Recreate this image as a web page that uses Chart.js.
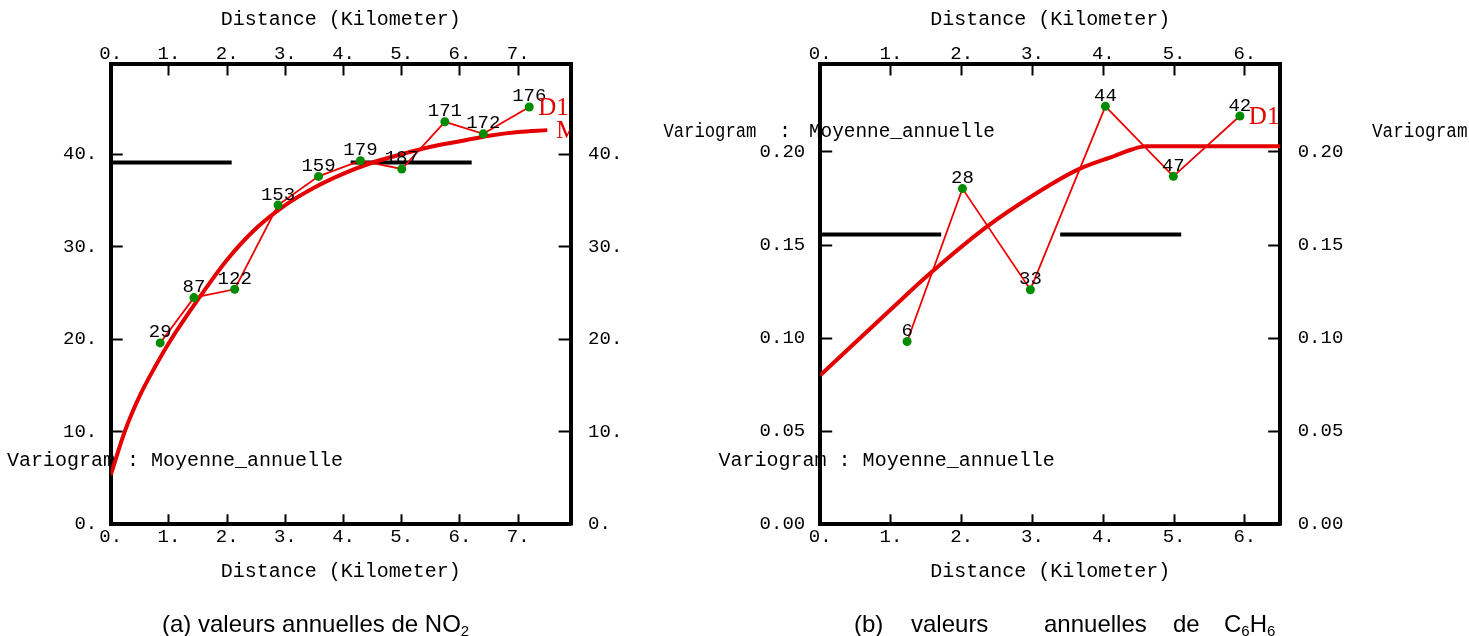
<!DOCTYPE html>
<html>
<head>
<meta charset="utf-8">
<script src="https://cdn.jsdelivr.net/npm/chart.js@4.4.1/dist/chart.umd.min.js"></script>
<style>
body { margin: 0; background: #fff; width: 1469px; height: 636px; position: relative; overflow: hidden; }
canvas { position: absolute; top: 0; }
.cap { position: absolute; top: 612px; font-family: 'Liberation Sans', Arial, sans-serif; font-size: 24px; line-height: 24px; white-space: nowrap; color: #000; }
.cap sub { font-size: 15px; vertical-align: -4px; line-height: 0; }
</style>
</head>
<body>
<canvas id="chartA" width="640" height="636" style="left:0"></canvas>
<canvas id="chartB" width="869" height="636" style="left:600px"></canvas>
<div class="cap" style="left:162px">(a) valeurs annuelles de NO<sub>2</sub></div>
<div class="cap" style="left:854px">(b)</div>
<div class="cap" style="left:911px">valeurs</div>
<div class="cap" style="left:1044px">annuelles</div>
<div class="cap" style="left:1173px">de</div>
<div class="cap" style="left:1224px">C<sub>6</sub>H<sub>6</sub></div>
<script>
// (a) NO2 - experimental variogram
const distA = [0.85, 1.43, 2.13, 2.875, 3.57, 4.29, 5.0, 5.74, 6.40, 7.19]
const gammaA = [19.6, 24.5, 25.4, 34.5, 37.6, 39.3, 38.4, 43.5, 42.2, 45.1]
const countsA = [29, 87, 122, 153, 159, 179, 187, 171, 172, 176]
// (a) fitted model
const modelDistA = [0, 0.24, 0.5, 0.76, 1.0, 1.5, 2.0, 2.5, 3.0, 3.5, 4.0, 4.5, 5.0, 5.5, 6.0, 6.5, 7.0, 7.5]
const modelGammaA = [5.3, 10.0, 13.9, 17.0, 19.6, 24.3, 28.6, 32.0, 34.5, 36.4, 37.9, 39.1, 40.0, 40.8, 41.4, 42.0, 42.4, 42.6]
const sillA = 39.1
const xMaxA = 7.9
const yMaxA = 49.8

// (b) C6H6
const distB = [1.228, 2.01, 2.97, 4.03, 4.99, 5.93]
const gammaB = [0.0982, 0.1803, 0.126, 0.2245, 0.1869, 0.2193]
const countsB = [6, 28, 33, 44, 47, 42]
const modelDistB = [0, 1.0, 1.53, 2.36, 3.0, 3.64, 4.17, 4.4, 4.6, 6.5]
const modelGammaB = [0.080, 0.1155, 0.134, 0.160, 0.1765, 0.1905, 0.198, 0.2013, 0.203, 0.203]
const sillB = 0.1557
const xMaxB = 6.5
const yMaxB = 0.2475

const mono = "'Liberation Mono', 'DejaVu Sans Mono', monospace"
const toXY = (xs, ys) => xs.map((x, i) => ({x: x, y: ys[i]}))

function fixSize(px) {
    return function (scale) {
        if (scale.isHorizontal()) scale.height = px
        else scale.width = px
    }
}

function axis(pos, max, step, fmt, size, pad, tl, title, titlePad) {
    return {
        type: 'linear',
        position: pos,
        min: 0,
        max: max,
        afterFit: fixSize(size),
        border: {display: true, width: 4, color: '#000'},
        grid: {drawOnChartArea: false, drawTicks: true, tickLength: tl, tickWidth: 2, tickColor: '#000'},
        ticks: {
            stepSize: step, includeBounds: false, autoSkip: false, maxRotation: 0,
            padding: pad, color: '#000', font: {family: mono, size: 19}, callback: fmt
        },
        title: title ? {display: true, text: title, color: '#000', font: {family: mono, size: 20}, padding: titlePad} : {display: false}
    }
}

const intFmt = v => v.toFixed(0) + '.'
const decFmt = v => v.toFixed(2)

// counts over points, D1 / M tags, variogram captions
function decorations(counts, texts) {
    return {
        id: 'deco',
        beforeDraw(chart) {
            const ctx = chart.ctx
            ctx.save()
            ctx.fillStyle = '#000'
            ctx.font = '20px ' + mono
            ctx.textBaseline = 'alphabetic'
            ctx.textAlign = 'left'
            texts.forEach(t => {
                if (t.w) ctx.fillText(t.s, t.x, t.y, t.w)
                else ctx.fillText(t.s, t.x, t.y)
            })
            ctx.restore()
        },
        afterDatasetsDraw(chart) {
            const ctx = chart.ctx
            const area = chart.chartArea
            const exp = chart.getDatasetMeta(0).data
            const mod = chart.getDatasetMeta(1).data
            ctx.save()
            ctx.fillStyle = '#000'
            ctx.font = '19px ' + mono
            ctx.textAlign = 'center'
            ctx.textBaseline = 'alphabetic'
            exp.forEach((p, i) => ctx.fillText(String(counts[i]), p.x, p.y - 5.5))
            ctx.beginPath()
            ctx.rect(area.left, area.top - 20, area.right - area.left - 1, area.bottom - area.top + 20)
            ctx.clip()
            ctx.fillStyle = '#e60000'
            ctx.font = "25px 'Liberation Serif', 'DejaVu Serif', serif"
            ctx.textAlign = 'left'
            ctx.textBaseline = 'middle'
            const last = exp[exp.length - 1]
            ctx.fillText('D1', last.x + 9, last.y + 1)
            const end = mod[mod.length - 1]
            ctx.fillText('M', end.x + 9, end.y + 1)
            ctx.restore()
        }
    }
}

function variogram(canvasId, d) {
    return new Chart(document.getElementById(canvasId), {
        type: 'line',
        data: {
            datasets: [{
                data: toXY(d.dist, d.gamma),
                borderColor: '#f00000',
                borderWidth: 1.8,
                pointRadius: 4.5,
                pointBackgroundColor: 'rgb(0,140,0)',
                pointBorderWidth: 0,
                tension: 0
            }, {
                data: toXY(d.modelDist, d.modelGamma),
                borderColor: '#e40000',
                borderWidth: 4,
                pointRadius: 0,
                cubicInterpolationMode: 'monotone'
            }, {
                data: [{x: 0, y: d.sill}, {x: d.xMax, y: d.sill}],
                borderColor: '#000',
                borderWidth: 4,
                borderDash: [121, 119],
                pointRadius: 0
            }]
        },
        options: {
            responsive: false,
            animation: false,
            devicePixelRatio: 1,
            layout: {padding: 0},
            plugins: {legend: {display: false}, tooltip: {enabled: false}},
            scales: {
                x: axis('bottom', d.xMax, 1, intFmt, 111.7, 11, -10, 'Distance (Kilometer)', {top: 0, bottom: 52.5}),
                x2: axis('top', d.xMax, 1, intFmt, 63.5, 10.5, -12, 'Distance (Kilometer)', {top: 8, bottom: 0}),
                y: axis('left', d.yMax, d.yStep, d.yFmt, d.left, d.leftPad, -12),
                y2: axis('right', d.yMax, d.yStep, d.yFmt, d.right, 29.5, -12)
            }
        },
        plugins: [decorations(d.counts, d.texts)]
    })
}

variogram('chartA', {
    dist: distA, gamma: gammaA, counts: countsA,
    modelDist: modelDistA, modelGamma: modelGammaA,
    sill: sillA, xMax: xMaxA, yMax: yMaxA, yStep: 10, yFmt: intFmt,
    left: 110.7, right: 640 - 570.6, leftPad: 25.5,
    texts: [{s: 'Variogram : Moyenne_annuelle', x: 7, y: 466}]
})

variogram('chartB', {
    dist: distB, gamma: gammaB, counts: countsB,
    modelDist: modelDistB, modelGamma: modelGammaB,
    sill: sillB, xMax: xMaxB, yMax: yMaxB, yStep: 0.05, yFmt: decFmt,
    left: 220.2, right: 869 - 680.2, leftPad: 27,
    texts: [
        {s: 'Variogram', x: 63.4, y: 137.3, w: 93},
        {s: ':', x: 179, y: 137.3},
        {s: 'Moyenne_annuelle', x: 208.9, y: 137.3, w: 186},
        {s: 'Variogram', x: 771.9, y: 137.3, w: 95.6},
        {s: 'Variogram : Moyenne_annuelle', x: 118.6, y: 466}
    ]
})
</script>
</body>
</html>
